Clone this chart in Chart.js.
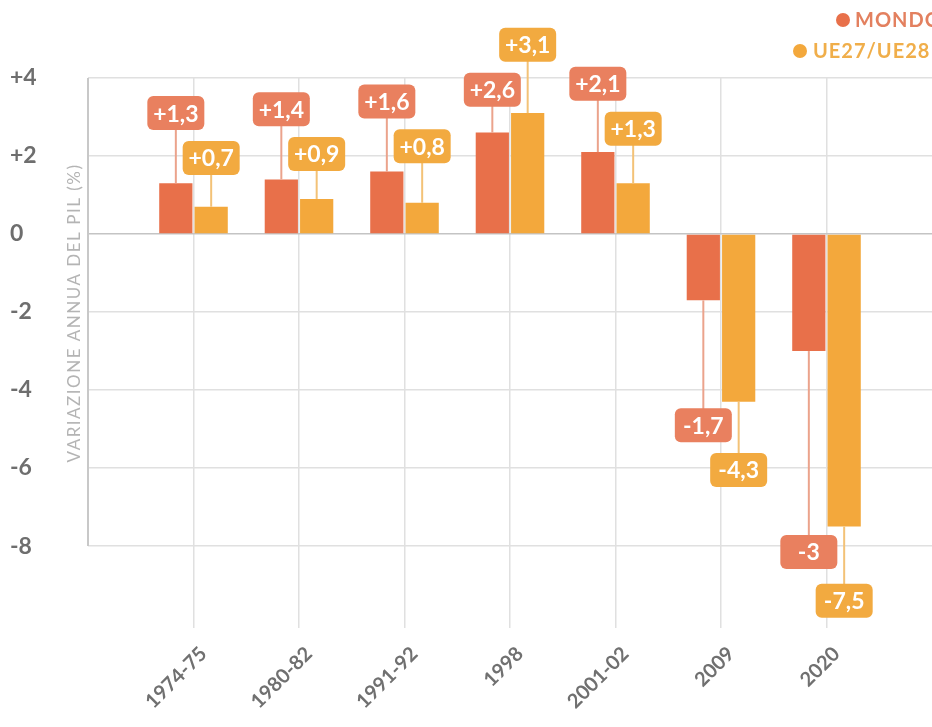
<!DOCTYPE html>
<html>
<head>
<meta charset="utf-8">
<script src="https://cdn.jsdelivr.net/npm/chart.js@4.4.1/dist/chart.umd.min.js"></script>
<style>
    html, body { margin: 0; padding: 0; background: #ffffff; }
    #wrap { width: 932px; height: 727px; }
</style>
</head>
<body>
<div id="wrap"><canvas id="pilChart" width="932" height="727"></canvas></div>
<script>
// Periodi di crisi e variazione annua del PIL (%)
const periodi = ['1974-75', '1980-82', '1991-92', '1998', '2001-02', '2009', '2020'];
const mondo = [1.3, 1.4, 1.6, 2.6, 2.1, -1.7, -3];
const ue = [0.7, 0.9, 0.8, 3.1, 1.3, -4.3, -7.5];
const yTicks = [-8, -6, -4, -2, 0, 2, 4];

const FONT = 'Lato, "Open Sans", sans-serif';
const RED = '#E8704A';
const ORANGE = '#F3A83C';

// empty slots at both ends so the grid frame runs edge to edge
const labels = [''].concat(periodi, ['']);
const pad = arr => [null].concat(arr, [null]);

// where each callout box sits (y, in axis units)
const calloutAt = [
    [null, 3.1, 3.2, 3.4, 3.7, 3.85, -4.9, -8.15, null],
    [null, 1.95, 2.05, 2.25, 4.85, 2.7, -6.05, -9.4, null]
];
const boxColors = ['#E9805F', '#F2AA40'];
const lineColors = ['#EBA38C', '#F3C277'];

function fmt(v) {
    const s = String(v).replace('.', ',');
    return v > 0 ? '+' + s : s;
}

const calloutPlugin = {
    id: 'callouts',
    afterDatasetsDraw(chart) {
        const ctx = chart.ctx;
        const yScale = chart.scales.y;
        chart.data.datasets.forEach((ds, di) => {
            const meta = chart.getDatasetMeta(di);
            meta.data.forEach((bar, i) => {
                const v = ds.data[i];
                if (v === null || v === undefined) return;
                const cy = yScale.getPixelForValue(calloutAt[di][i]);
                const cx = bar.x;
                ctx.save();
                // leader line
                ctx.strokeStyle = lineColors[di];
                ctx.lineWidth = 2;
                ctx.beginPath();
                ctx.moveTo(cx, bar.y);
                ctx.lineTo(cx, cy);
                ctx.stroke();
                // box
                const w = 57, h = 34;
                ctx.fillStyle = boxColors[di];
                ctx.beginPath();
                ctx.roundRect(cx - w / 2, cy - h / 2, w, h, 6);
                ctx.fill();
                ctx.fillStyle = '#ffffff';
                ctx.font = 'bold 23px ' + FONT;
                ctx.textAlign = 'center';
                ctx.textBaseline = 'middle';
                ctx.fillText(fmt(v), cx, cy + 1);
                ctx.restore();
            });
        });
    }
};

const framePlugin = {
    id: 'frame',
    afterDraw(chart) {
        const ctx = chart.ctx;
        const area = chart.chartArea;
        const yScale = chart.scales.y;
        ctx.save();
        // left frame line, stops at -8
        ctx.strokeStyle = '#c8c8c8';
        ctx.lineWidth = 2;
        ctx.beginPath();
        ctx.moveTo(area.left, area.top);
        ctx.lineTo(area.left, yScale.getPixelForValue(-8));
        ctx.stroke();

        // axis title
        ctx.translate(75, 313);
        ctx.rotate(-Math.PI / 2);
        ctx.fillStyle = '#b4b4b4';
        ctx.font = '17px ' + FONT;
        ctx.letterSpacing = '1.5px';
        ctx.textAlign = 'center';
        ctx.textBaseline = 'middle';
        ctx.fillText('VARIAZIONE ANNUA DEL PIL (%)', 0, 0);
        ctx.restore();

        // legend, top right
        ctx.save();
        ctx.font = 'bold 20px ' + FONT;
        ctx.letterSpacing = '1px';
        ctx.textBaseline = 'middle';
        ctx.textAlign = 'left';
        ctx.fillStyle = RED;
        ctx.beginPath();
        ctx.arc(843, 20, 7, 0, Math.PI * 2);
        ctx.fill();
        ctx.fillStyle = '#E3805F';
        ctx.fillText('MONDO', 855, 21);
        ctx.fillStyle = ORANGE;
        ctx.beginPath();
        ctx.arc(800, 51, 7, 0, Math.PI * 2);
        ctx.fill();
        ctx.fillStyle = '#F0AE4A';
        ctx.fillText('UE27/UE28', 813, 52);
        ctx.restore();
    }
};

const ctxPil = document.getElementById('pilChart').getContext('2d');
new Chart(ctxPil, {
    type: 'bar',
    data: {
        labels: labels,
        datasets: [{
            label: 'MONDO',
            data: pad(mondo),
            backgroundColor: RED
        }, {
            label: 'UE27/UE28',
            data: pad(ue),
            backgroundColor: ORANGE
        }]
    },
    options: {
        responsive: false,
        animation: false,
        layout: {
            padding: { top: 78, left: 10, right: 0, bottom: 0 }
        },
        datasets: {
            bar: {
                categoryPercentage: 0.67,
                barPercentage: 0.94
            }
        },
        plugins: {
            legend: { display: false },
            tooltip: { enabled: false }
        },
        scales: {
            x: {
                offset: false,
                afterFit: function(scale) {
                    scale.height = 99;
                    scale.paddingLeft = 0;
                    scale.paddingRight = 0;
                },
                border: { display: false },
                grid: {
                    offset: false,
                    drawTicks: false,
                    lineWidth: 1.5,
                    color: ctx => (ctx.index === 0 || ctx.index === labels.length - 1) ? 'rgba(0,0,0,0)' : '#e0e0e0'
                },
                ticks: {
                    autoSkip: false,
                    minRotation: 45,
                    maxRotation: 45,
                    padding: 14,
                    labelOffset: 10,
                    color: '#707070',
                    font: { family: FONT, size: 20, weight: 'bold' }
                }
            },
            y: {
                min: -10.1,
                max: 4,
                afterFit: function(scale) { scale.width = 78; },
                afterBuildTicks: function(scale) {
                    scale.ticks = yTicks.map(v => ({ value: v }));
                },
                border: { display: false },
                grid: {
                    drawTicks: false,
                    lineWidth: 1.5,
                    color: ctx => ctx.tick && ctx.tick.value === 0 ? '#c4c4c4' : '#e0e0e0'
                },
                ticks: {
                    crossAlign: 'far',
                    color: '#6e6e6e',
                    font: { family: FONT, size: 23, weight: 'bold' },
                    callback: function(value) {
                        return value > 0 ? '+' + value : String(value);
                    }
                }
            }
        }
    },
    plugins: [calloutPlugin, framePlugin]
});
</script>
</body>
</html>
